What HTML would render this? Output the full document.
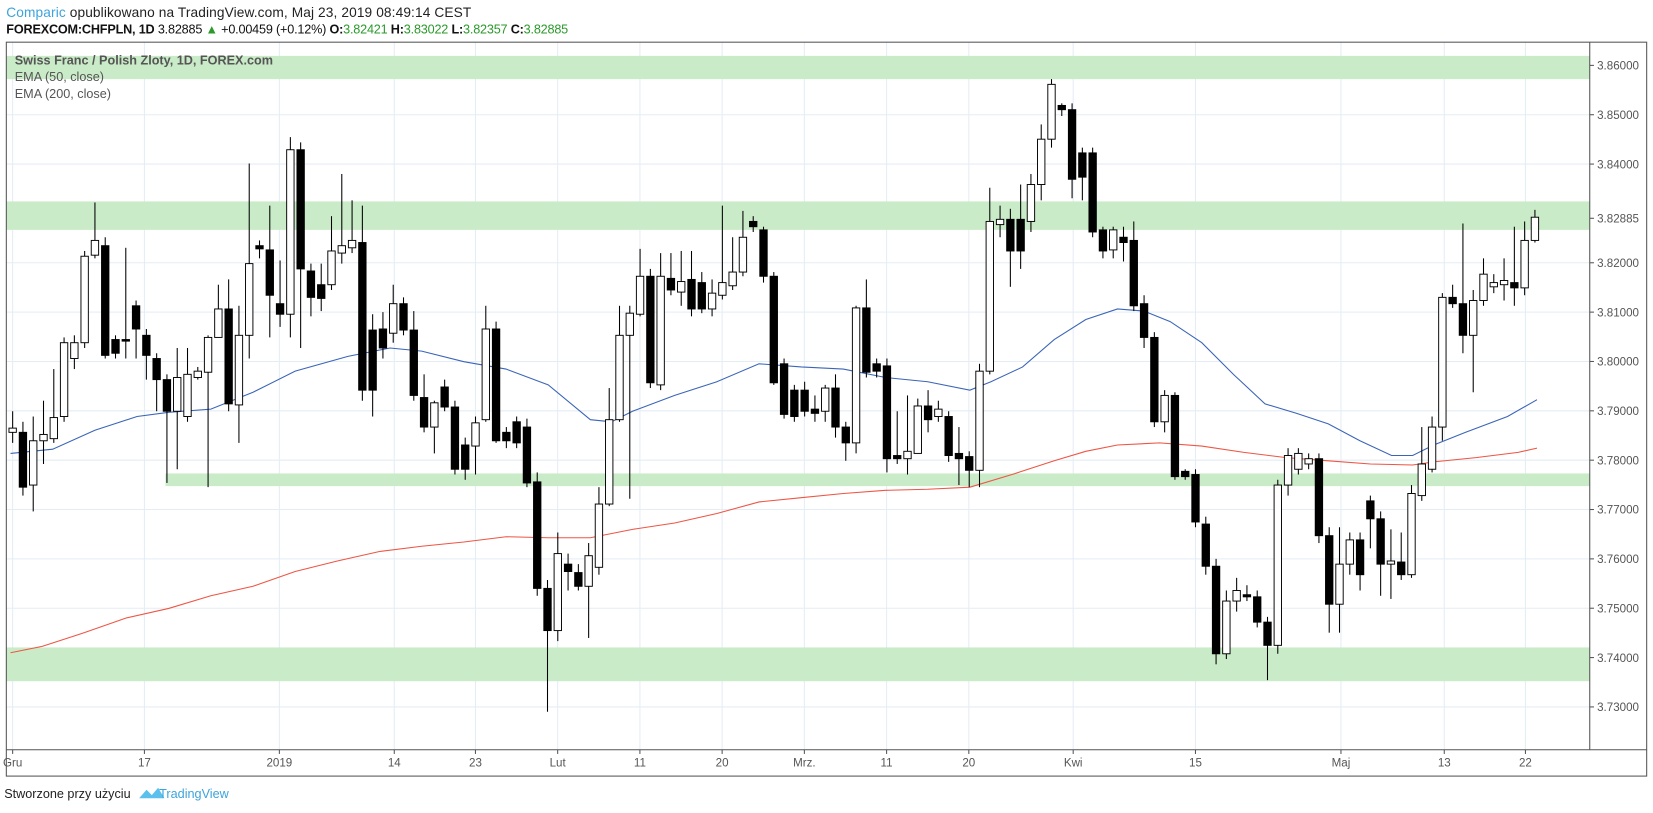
<!DOCTYPE html>
<html><head><meta charset="utf-8"><style>
html,body{margin:0;padding:0;background:#fff;width:1653px;height:813px;overflow:hidden}
svg{display:block}
text{font-family:"Liberation Sans",sans-serif}
</style></head><body>
<svg id="s" width="1653" height="813" viewBox="0 0 1568 771" preserveAspectRatio="none" xmlns="http://www.w3.org/2000/svg">
<rect x="0" y="0" width="1568" height="771" fill="#fff"/>
<text x="6" y="16" font-size="13" fill="#222" textLength="441"><tspan fill="#3ca4dc">Comparic</tspan> opublikowano na TradingView.com, Maj 23, 2019 08:49:14 CEST</text>
<text x="6" y="32" font-size="12" fill="#111" textLength="533"><tspan font-weight="bold">FOREXCOM:CHFPLN, 1D</tspan> 3.82885 <tspan fill="#2a9a2a">▲</tspan> +0.00459 (+0.12%) <tspan font-weight="bold">O:</tspan><tspan fill="#2a9a2a">3.82421</tspan> <tspan font-weight="bold">H:</tspan><tspan fill="#2a9a2a">3.83022</tspan> <tspan font-weight="bold">L:</tspan><tspan fill="#2a9a2a">3.82357</tspan> <tspan font-weight="bold">C:</tspan><tspan fill="#2a9a2a">3.82885</tspan></text>
<g id="grid"></g>
<rect x="6" y="53" width="1502" height="22" fill="#c9ebc7"/>
<rect x="6" y="191" width="1502" height="27" fill="#c9ebc7"/>
<rect x="157" y="449" width="1351" height="12" fill="#c9ebc7"/>
<rect x="6" y="614" width="1502" height="32" fill="#c9ebc7"/>
<g id="ema"></g>
<g id="c"></g>
<rect x="6" y="40" width="1556" height="696" fill="none" stroke="#555" stroke-width="1"/>
<line x1="1508" y1="40" x2="1508" y2="711" stroke="#555"/>
<line x1="6" y1="711" x2="1562" y2="711" stroke="#555"/>
<text x="14" y="61" font-size="12" fill="#555" font-weight="bold">Swiss Franc / Polish Zloty, 1D, FOREX.com</text>
<text x="14" y="77" font-size="12" fill="#555">EMA (50, close)</text>
<text x="14" y="93" font-size="12" fill="#555">EMA (200, close)</text>
<g id="ax" font-size="11" fill="#555"></g>
<text x="4" y="757" font-size="12" fill="#222">Stworzone przy użyciu</text>
<path d="M132 757 l7 -8 l5 5 l6 -7 l6 10 z" fill="#5bc0eb"/>
<text x="151" y="757" font-size="12" fill="#3ca4dc">TradingView</text>
</svg>
<script>
var NS="http://www.w3.org/2000/svg";
function el(p,t,a){var e=document.createElementNS(NS,t);for(var k in a)e.setAttribute(k,a[k]);document.getElementById(p).appendChild(e);return e;}
var py=function(p){return 62+(3.86-p)*4680;};
var dates=[[12,"Gru"],[137,"17"],[265,"2019"],[374,"14"],[451,"23"],[529,"Lut"],[607,"11"],[685,"20"],[763,"Mrz."],[841,"11"],[919,"20"],[1018,"Kwi"],[1134,"15"],[1272,"Maj"],[1370,"13"],[1447,"22"]];
dates.forEach(function(d){el("grid","line",{x1:d[0],y1:40,x2:d[0],y2:711,stroke:"#e4edf5"});
el("ax","line",{x1:d[0],y1:711,x2:d[0],y2:715,stroke:"#555"});
var t=el("ax","text",{x:d[0],y:727,"text-anchor":"middle"});t.textContent=d[1];});
for(var i=0;i<14;i++){var p=3.86-i*0.01,y=py(p);
el("grid","line",{x1:6,y1:y,x2:1508,y2:y,stroke:"#e4edf5"});
if(Math.abs(p-3.83)<0.001)continue;
el("ax","line",{x1:1508,y1:y,x2:1512,y2:y,stroke:"#555"});
var t=el("ax","text",{x:1515,y:y+4});t.textContent=p.toFixed(5);}
el("ax","line",{x1:1508,y1:207,x2:1512,y2:207,stroke:"#555"});
var t=el("ax","text",{x:1515,y:211});t.textContent="3.82885";
var b=[[10,430],[50,426],[90,408],[130,395],[160,391],[200,388],[240,372],[280,352],[330,338],[370,330],[400,333],[440,343],[480,350],[520,365],[560,398],[580,400],[600,390],[640,375],[680,362],[720,345],[760,348],[800,350],[840,358],[880,362],[920,370],[940,362],[970,348],[1000,322],[1030,303],[1060,293],[1085,295],[1110,305],[1140,325],[1170,355],[1200,383],[1230,392],[1260,402],[1290,418],[1320,432],[1340,432],[1360,422],[1390,410],[1430,395],[1458,379]];
var r=[[10,619],[40,613],[80,600],[120,586],[160,577],[200,565],[240,556],[280,542],[320,532],[360,523],[400,518],[440,514],[480,509],[520,510],[560,510],[600,502],[640,496],[680,487],[720,476],[760,472],[800,468],[840,465],[880,464],[920,462],[960,450],[1000,437],[1030,428],[1060,422],[1100,420],[1140,423],[1180,429],[1220,434],[1260,437],[1300,440],[1340,441],[1360,438],[1400,434],[1440,429],[1458,425]];
el("ema","polyline",{points:b.join(" "),fill:"none",stroke:"#3a64b8","stroke-width":1});
el("ema","polyline",{points:r.join(" "),fill:"none",stroke:"#ee5544","stroke-width":1});
var C=[[410,406,390,420],[410,462,400,470],[460,418,395,485],[418,412,380,440],[416,396,350,420],[395,325,320,400],[340,325,318,350],[325,243,238,330],[242,228,192,245],[233,337,225,340],[322,335,318,340],[322,323,235,340],[290,312,285,340],[318,337,312,360],[340,360,335,390],[360,390,355,458],[390,358,330,445],[395,355,330,400],[358,352,348,360],[353,320,318,462],[320,293,270,320],[293,383,265,390],[384,318,290,420],[318,250,155,340],[233,236,228,245],[237,280,195,320],[288,298,247,310],[298,142,130,320],[142,255,135,330],[257,282,250,300],[270,283,250,295],[270,238,205,275],[240,233,165,250],[235,228,190,240],[230,370,195,380],[313,370,298,395],[312,330,296,340],[316,288,270,325],[288,313,282,318],[313,375,295,380],[377,405,355,410],[405,382,380,430],[367,386,360,390],[386,445,380,450],[422,445,415,455],[423,401,395,450],[398,312,290,400],[312,418,305,420],[410,418,405,425],[400,420,395,425],[405,458,397,462],[457,558,448,565],[558,598,550,675],[598,525,505,608],[535,542,525,560],[543,556,535,560],[556,527,515,605],[538,478,462,545],[478,398,368,480],[398,318,290,400],[318,297,290,473],[298,262,236,300],[262,363,255,368],[365,262,240,370],[264,275,240,280],[277,267,238,290],[265,293,238,300],[268,293,258,297],[293,278,265,300],[280,268,195,284],[271,258,225,275],[258,225,200,262],[210,215,205,220],[218,262,215,268],[262,363,258,365],[345,393,340,397],[370,395,365,400],[370,390,362,395],[388,392,375,400],[390,368,365,400],[368,405,355,415],[405,420,400,437],[420,292,290,430],[292,353,265,358],[345,352,340,358],[347,435,340,448],[432,435,390,440],[435,428,375,450],[430,385,378,430],[385,398,370,410],[395,388,380,400],[395,432,390,438],[430,435,405,460],[433,446,428,462],[446,352,345,462],[352,210,178,355],[213,208,195,225],[208,238,198,272],[208,238,175,255],[210,175,165,220],[175,132,118,190],[132,80,75,140],[100,104,98,110],[104,170,98,188],[145,168,140,190],[145,220,140,225],[218,238,215,245],[237,218,215,245],[225,230,215,248],[228,290,210,295],[288,320,280,330],[320,400,315,405],[400,375,370,410],[375,452,372,455],[447,452,445,455],[450,495,445,500],[497,537,490,545],[537,620,530,630],[620,570,560,625],[570,560,548,580],[564,566,555,570],[566,590,560,595],[590,612,585,645],[612,460,455,620],[460,432,425,470],[445,430,425,450],[440,435,430,445],[435,508,430,515],[508,573,500,600],[573,535,500,600],[535,512,505,545],[512,545,505,560],[475,492,470,520],[492,535,485,565],[535,532,502,568],[533,545,505,550],[545,468,460,548],[470,440,405,475],[445,405,395,448],[405,282,278,418],[282,288,270,292],[288,318,212,335],[318,285,275,372],[285,260,245,290],[272,268,260,278],[270,266,245,285],[268,273,215,290],[273,228,210,280],[228,206,199,230]];
var sp=(1456-12)/(C.length-1);
C.forEach(function(c,i){var x=12+i*sp;var up=c[1]<c[0];
var top=Math.min(c[0],c[1]),bot=Math.max(c[0],c[1]);if(bot-top<1.5)bot=top+1.5;
el("c","line",{x1:x,y1:c[2],x2:x,y2:c[3],stroke:"#000","stroke-width":1});
el("c","rect",{x:x-3.5,y:top,width:7,height:bot-top,fill:up?"#fff":"#000",stroke:"#000","stroke-width":0.9});});
</script>
</body></html>
